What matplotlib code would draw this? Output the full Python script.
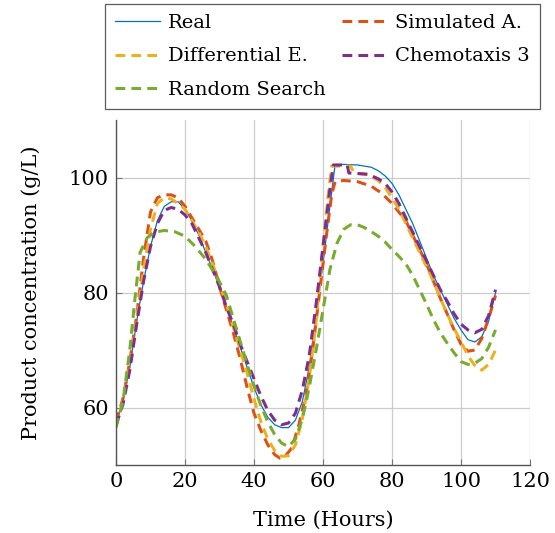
import matplotlib.pyplot as plt

# hours / product concentration (g/L)
real_t = [0, 2, 4, 6, 8, 10, 12, 14, 16, 18, 20, 22, 24, 26, 28, 30, 32, 34, 36, 38, 40,
          42, 44, 46, 48, 50, 52, 54, 56, 58, 60, 62, 63.5, 66, 70, 74, 76, 78, 80, 82, 84,
          86, 88, 90, 92, 94, 96, 98, 100, 102, 104, 106, 108, 110]
real_y = [57.5, 61, 67, 75, 82, 88, 92.5, 95, 95.8, 95.8, 94.5, 92.5, 90, 87, 84, 81, 77.5,
          74, 70.5, 67, 63.5, 60.5, 58.3, 57, 56.5, 56.5, 57.8, 61, 67, 76, 85, 95, 102.2,
          102.3, 102.2, 101.8, 101.2, 100.3, 99, 97, 94.5, 92, 89, 86, 83, 80.5, 78, 75.5,
          73.5, 71.8, 71.4, 72.3, 75, 80]

sa_t = [0, 2, 4, 6, 8, 10, 12, 14, 16, 18, 20, 22, 24, 26, 28, 30, 32, 34, 36, 38, 40, 42,
        44, 46, 47.5, 49, 51, 53, 55, 57, 59, 61, 62.5, 63.5, 66, 70, 74, 77, 80, 82, 84,
        86, 88, 90, 92, 94, 96, 98, 100, 102, 104, 106, 108, 110]
sa_y = [57.5, 61.5, 68, 76, 86, 94, 96.5, 97, 97, 96.5, 95, 93, 91, 89, 85.5, 81, 77, 73,
        68.5, 63.5, 59, 56, 53.5, 51.8, 51.2, 51.5, 53, 57, 62, 70, 80, 90, 97, 99.3, 99.5,
        99.3, 98.5, 97.3, 95.5, 94, 92.5, 90, 87.5, 85, 82, 79, 76.3, 73.5, 71, 69.8, 70,
        72, 75.5, 79.5]

de_t = [0, 2, 4, 6, 8, 10, 12, 14, 16, 18, 20, 22, 24, 26, 28, 30, 32, 34, 36, 38, 40, 42,
        44, 46, 48, 50, 52, 54, 56, 58, 60, 61.5, 62.5, 68, 69, 73, 76, 78, 80, 82, 84, 86,
        88, 90, 92, 94, 96, 98, 100, 102, 104, 106, 108, 110]
de_y = [57, 61, 67.5, 75.5, 84, 91, 95.5, 96.5, 96.3, 95.5, 94.5, 92.5, 90.5, 88, 85, 81.5,
        78, 74, 70, 66, 61.5, 57.5, 54.5, 52.5, 51.5, 51.6, 53.5, 58, 65, 75, 88, 97, 102,
        102, 100.8, 100.5, 99.5, 98.3, 96.5, 94.5, 92, 89.5, 87, 84.5, 82, 79, 76.3, 73.7,
        71.5, 69, 67.3, 66.5, 67.5, 70]

ch_t = [0, 2, 4, 6, 8, 10, 12, 14, 16, 18, 20, 22, 24, 26, 28, 30, 32, 34, 36, 38, 40, 42,
        44, 46, 48, 50, 52, 54, 56, 58, 60, 62, 63, 67, 67.5, 73, 76, 78, 80, 82, 84, 86,
        88, 90, 92, 94, 96, 98, 100, 102, 104, 106, 108, 110]
ch_y = [57, 60.5, 66.5, 74.5, 82, 88, 92, 94.3, 94.8, 94.5, 93.5, 92, 89.5, 87, 84, 81,
        77.5, 74.5, 71, 68, 65, 62, 59.5, 57.8, 57, 57.3, 59, 63, 69, 78, 88, 98, 102.2,
        102.2, 100.8, 100.6, 99.8, 99, 97.5, 95.5, 93, 90.5, 88, 85.5, 83, 80.5, 78.5, 76.3,
        74.5, 73.5, 73, 73.6, 76, 80.5]

rs_t = [0, 2, 4, 5.5, 7, 9, 11, 14, 17, 20, 23, 26, 29, 32, 34, 36, 38, 40, 42, 44, 46,
        48, 50, 52, 54, 56, 58, 60, 62, 64, 66, 68, 70, 72, 74, 76, 78, 80, 82, 84, 86, 88,
        90, 92, 94, 96, 98, 100, 102, 104, 106, 108, 110]
rs_y = [56.5, 61, 70, 79, 87, 89.5, 90.5, 90.8, 90.6, 89.8, 88, 85.8, 83, 79.5, 75.5, 71.5,
        67.5, 63.8, 60.3, 57.5, 55.3, 53.8, 53.2, 54.5, 58, 63.5, 70, 77, 84, 88.5, 91,
        91.8, 91.8, 91.3, 90.6, 89.8, 88.8, 87.5, 86.3, 85, 83, 80.5, 78, 75.3, 73, 71.2,
        69.5, 68, 67.5, 67.7, 68.5, 70.5, 73.5]

plt.rcParams['font.family'] = ['DejaVu Serif']

fig = plt.figure(figsize=(5.55, 5.33), dpi=100)
ax = fig.add_axes([0.209, 0.1276, 0.746, 0.647])

dash = (0, (3.2, 2.0))
h_real, = ax.plot(real_t, real_y, color='#0072BD', lw=0.9, label='Real')
h_sa, = ax.plot(sa_t, sa_y, color='#D95319', lw=2.2, ls=dash, label='Simulated A.')
h_de, = ax.plot(de_t, de_y, color='#EDB120', lw=2.2, ls=dash, label='Differential E.')
h_ch, = ax.plot(ch_t, ch_y, color='#7E2F8E', lw=2.2, ls=dash, label='Chemotaxis 3')
h_rs, = ax.plot(rs_t, rs_y, color='#77AC30', lw=2.2, ls=dash, label='Random Search')

ax.set_xlim(0, 120)
ax.set_ylim(50, 110)
ax.set_xticks(range(0, 121, 20))
ax.set_yticks([60, 80, 100])
ax.grid(True, color='#cccccc', lw=0.9)
ax.set_axisbelow(True)
for s in ['top', 'right']:
    ax.spines[s].set_visible(False)
for s in ['left', 'bottom']:
    ax.spines[s].set_color('#555555')
    ax.spines[s].set_linewidth(1.0)
ax.tick_params(direction='in', length=4, color='#777777', labelsize=15, pad=5)
ax.set_xlabel('Time (Hours)', fontsize=15, labelpad=14)
ax.set_ylabel('Product concentration (g/L)', fontsize=15, labelpad=20)

leg = fig.legend([h_real, h_de, h_rs, h_sa, h_ch],
                 ['Real', 'Differential E.', 'Random Search', 'Simulated A.', 'Chemotaxis 3'],
                 ncol=2, loc='center', bbox_to_anchor=(0.581, 0.894), fontsize=14,
                 fancybox=False, edgecolor='#333333', handlelength=2.3,
                 handletextpad=0.45, columnspacing=0.8, labelspacing=0.8,
                 borderpad=0.5, borderaxespad=0)
leg.get_frame().set_linewidth(0.9)

fig.savefig('out.png', dpi=100)
